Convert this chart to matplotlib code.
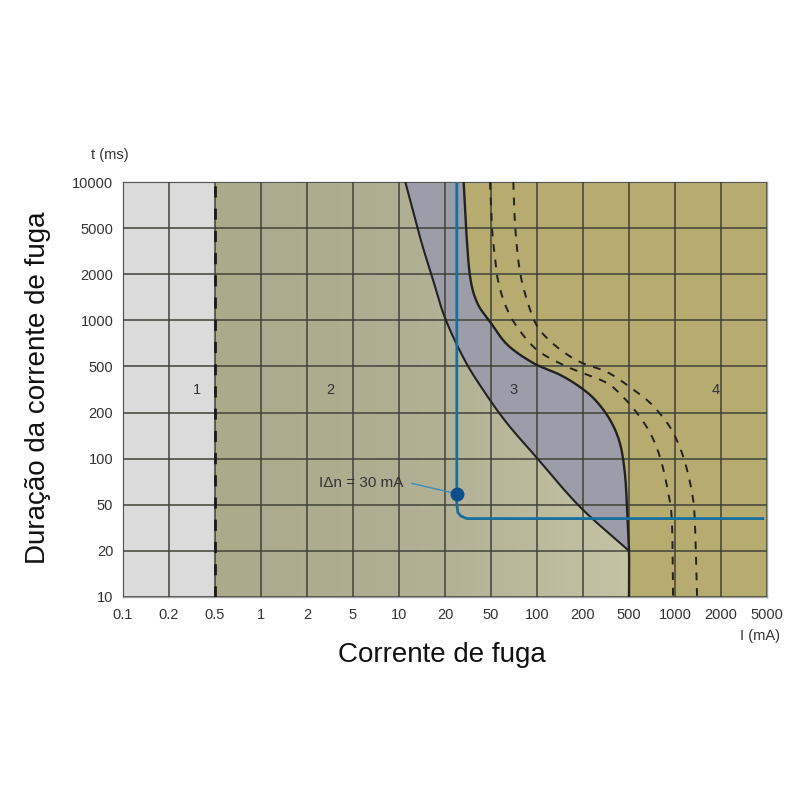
import numpy as np
import matplotlib
matplotlib.use("Agg")
import matplotlib.pyplot as plt
from matplotlib.patches import Polygon
from matplotlib.colors import LinearSegmentedColormap

plt.rcParams['font.family'] = ['Liberation Sans', 'DejaVu Sans']

# axis ticks (equally spaced on the chart)
x_ticks = [0.1, 0.2, 0.5, 1, 2, 5, 10, 20, 50, 100, 200, 500, 1000, 2000, 5000]
y_ticks = [10, 20, 50, 100, 200, 500, 1000, 2000, 5000, 10000]
x_labels = ['0.1', '0.2', '0.5', '1', '2', '5', '10', '20', '50', '100', '200', '500', '1000', '2000', '5000']
y_labels = ['10', '20', '50', '100', '200', '500', '1000', '2000', '5000', '10000']

# curve b (limit zone 2 / zone 3), I in mA, t in ms
b_I = [11, 13.7, 16.7, 20, 28.6, 40, 62, 100, 191, 500]
b_t = [10000, 4200, 1835, 1037, 577, 346, 176, 101, 48, 20]

# curve c1 (limit zone 3 / zone 4)
c1_I = [29, 30.5, 33, 38, 49, 64, 94, 141, 190, 256, 343, 416, 460, 482, 500, 500]
c1_t = [10000, 4820, 1920, 1300, 980, 693, 528, 424, 334, 256, 179, 127, 81, 45, 20, 10]

# curves c2 and c3 (dashed)
c2_I = [49, 50.7, 53, 55.5, 62, 74, 100, 148, 191, 322, 443, 563, 688, 796, 889, 953, 971]
c2_t = [10000, 5100, 2820, 1835, 1260, 906, 641, 512, 448, 360, 273, 199, 147, 103, 65, 37, 10]
c3_I = [70, 72, 77, 86, 101, 135, 191, 322, 507, 688, 889, 1028, 1165, 1292, 1347, 1395]
c3_t = [10000, 5100, 2180, 1357, 906, 670, 535, 448, 332, 242, 171, 132, 94, 60, 37, 10]

# residual current device curve (30 mA)
rcd_I = [25.3, 25.3, 25.3, 25.8, 27.4, 30.9, 4600]
rcd_t = [10000, 59, 51, 43, 40, 38, 38]
dot_I, dot_t = 25.3, 59
note_I, note_t = 12.1, 69

zone_names = ['1', '2', '3', '4']
zone_I = [0.35, 3.2, 70, 1850]
zone_t = [313, 313, 313, 313]

lx = np.log10(x_ticks)
ly = np.log10(y_ticks)


def fx(v):
    return np.interp(np.log10(np.maximum(v, 1e-12)), lx, np.arange(len(lx)))


def ix(p):
    return 10 ** np.interp(p, np.arange(len(lx)), lx)


def fy(v):
    return np.interp(np.log10(np.maximum(v, 1e-12)), ly, np.arange(len(ly)))


def iy(p):
    return 10 ** np.interp(p, np.arange(len(ly)), ly)


def smooth(xs, ys, n=16):
    # Catmull-Rom through the read points, in the chart's own grid units
    P = np.column_stack([fx(np.array(xs, float)), fy(np.array(ys, float))])
    P = np.vstack([2 * P[0] - P[1], P, 2 * P[-1] - P[-2]])
    out = []
    t = np.linspace(0, 1, n, endpoint=False)[:, None]
    for i in range(1, len(P) - 2):
        p0, p1, p2, p3 = P[i - 1], P[i], P[i + 1], P[i + 2]
        seg = 0.5 * ((2 * p1) + (-p0 + p2) * t + (2 * p0 - 5 * p1 + 4 * p2 - p3) * t ** 2
                     + (-p0 + 3 * p1 - 3 * p2 + p3) * t ** 3)
        out.append(seg)
    out.append(P[-2][None, :])
    out = np.vstack(out)
    return list(ix(out[:, 0])), list(iy(out[:, 1]))


bx, by = smooth(b_I, b_t)
c1x, c1y = smooth(c1_I, c1_t)
c2x, c2y = smooth(c2_I, c2_t)
c3x, c3y = smooth(c3_I, c3_t)

fig = plt.figure(figsize=(8, 8), dpi=100)
ax = fig.add_axes([0.15375, 0.25375, 0.805, 0.51875])
ax.set_xscale('function', functions=(fx, ix))
ax.set_yscale('function', functions=(fy, iy))

# zone 1
ax.axvspan(0.1, 0.5, color='#dbdbdb', lw=0, zorder=1)

# zone 2 with slight gradient
z2 = list(zip([0.5, 0.5] + bx + [500], [10, 10000] + by + [10]))
p2 = Polygon(z2, closed=True, transform=ax.transData, facecolor='none', edgecolor='none')
ax.add_patch(p2)
cmap = LinearSegmentedColormap.from_list('z2', ['#abaa8b', '#b1af94', '#c4c3a4'])
grad = np.linspace(0, 1, 256).reshape(1, -1)
im = ax.imshow(grad, cmap=cmap, extent=(2 / 14, 11 / 14, 0, 1), transform=ax.transAxes,
               aspect='auto', zorder=1, interpolation='bilinear')
im.set_clip_path(p2)

# zone 3
z3 = list(zip(bx + c1x[::-1], by + c1y[::-1]))
ax.add_patch(Polygon(z3, closed=True, facecolor='#9d9ca9', edgecolor='none', zorder=1))

# zone 4
z4 = list(zip(c1x + [5000, 5000], c1y + [10, 10000]))
ax.add_patch(Polygon(z4, closed=True, facecolor='#b7ac6f', edgecolor='none', zorder=1))

ax.set_xlim(0.1, 5000)
ax.set_ylim(10, 10000)

ax.set_xticks(x_ticks)
ax.set_xticklabels(x_labels)
ax.set_yticks(y_ticks)
ax.set_yticklabels(y_labels)
ax.minorticks_off()
ax.tick_params(length=0, labelsize=10.5, colors='#333333')
ax.tick_params(axis='x', pad=8)
ax.tick_params(axis='y', pad=7)
ax.grid(True, color='#42423a', lw=1.3, alpha=0.85, zorder=2)
ax.set_axisbelow(False)
for s in ax.spines.values():
    s.set_color('#a0a0a0')
    s.set_linewidth(1)

# boundary lines
ax.plot([0.5, 0.5], [10, 10000], color='#1a1a1a', lw=2, dashes=(4, 4), zorder=3)
ax.plot(bx, by, color='#222222', lw=1.5, zorder=3)
ax.plot(c1x, c1y, color='#222222', lw=1.7, zorder=3)
ax.plot(c2x, c2y, color='#222222', lw=1.4, dashes=(4, 4), zorder=3)
ax.plot(c3x, c3y, color='#222222', lw=1.4, dashes=(4, 4), zorder=3)

# RCD 30 mA
ax.plot(rcd_I, rcd_t, color='#176f9d', lw=2, zorder=4, solid_joinstyle='round')
ax.plot([note_I, dot_I], [note_t, dot_t], color='#3b8db4', lw=1, zorder=4)
ax.plot(dot_I, dot_t, 'o', color='#0c4f8a', ms=9, zorder=5)
ax.annotate('I\u0394n = 30 mA', (note_I, note_t), xytext=(-6, 0), textcoords='offset points',
            fontsize=11, color='#333333', ha='right', va='center', zorder=5)

for name, xi, yi in zip(zone_names, zone_I, zone_t):
    ax.text(xi, yi, name, fontsize=10.5, color='#333333', ha='center', va='center', zorder=5)

fig.text(110 / 800, 1 - 155 / 800, 't (ms)', fontsize=10.5, color='#333333', ha='center', va='center')
fig.text(760 / 800, 1 - 636 / 800, 'I (mA)', fontsize=10.5, color='#333333', ha='center', va='center')
fig.text(442 / 800, 1 - 655 / 800, 'Corrente de fuga', fontsize=20, color='#111111', ha='center', va='center')
fig.text(38 / 800, 1 - 388 / 800, 'Duração da corrente de fuga', fontsize=20, color='#111111',
         ha='center', va='center', rotation=90)

fig.savefig('out.png', dpi=100, facecolor='white')
